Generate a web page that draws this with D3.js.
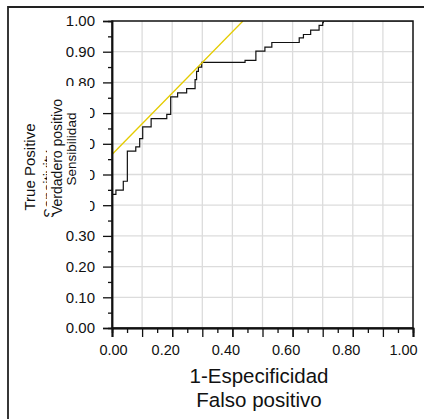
<!DOCTYPE html>
<html>
<head>
<meta charset="utf-8">
<script src="https://cdn.jsdelivr.net/npm/d3@7"></script>
<style>
  body { margin: 0; background: #fff; }
  svg { display: block; font-family: Arial, "Liberation Sans", sans-serif; }
</style>
</head>
<body>
<div id="chart"></div>
<script>
// ROC curve vertices (start of each horizontal run, step-after)
const fpr = [0, 0, 0.013, 0.0375, 0.051, 0.079, 0.092, 0.102, 0.130, 0.182, 0.195, 0.218,
  0.248, 0.276, 0.281, 0.287, 0.298, 0.442, 0.478, 0.508, 0.531, 0.622, 0.636, 0.660,
  0.688, 0.700, 0.702, 1.0];
const tpr = [0, 0.435, 0.449, 0.478, 0.576, 0.590, 0.617, 0.655, 0.682, 0.696, 0.753, 0.766,
  0.780, 0.809, 0.836, 0.850, 0.865, 0.872, 0.902, 0.915, 0.930, 0.945, 0.956, 0.970,
  0.986, 0.995, 1.0, 1.0];
// tangent (Youden) line: tpr = fpr + intercept
const youdenIntercept = 0.565;

const majorTicks = [0, 0.1, 0.2, 0.3, 0.4, 0.5, 0.6, 0.7, 0.8, 0.9, 1.0];
const minorTicks = [0.05, 0.15, 0.25, 0.35, 0.45, 0.55, 0.65, 0.75, 0.85, 0.95];
const xLabelValues = [0, 0.2, 0.4, 0.6, 0.8, 1.0];
const xTickLabels = ["0.00", "0.20", "0.40", "0.60", "0.80", "1.00"];
const yTickLabels = ["0.00", "0.10", "0.20", "0.30", "0.40", "0.50", "0.60", "0.70", "0.80", "0.90", "1.00"];
const xTitle = ["1-Especificidad", "Falso positivo"];
const yTitleBack = ["True Positive", "Sensitivity"];
const yTitleFront = ["Verdadero positivo", "Sensibilidad"];

const width = 425, height = 419;
const mLeft = 112, mRight = 413, mTop = 21, mBottom = 328;

const x = d3.scaleLinear().domain([0, 1]).range([mLeft, mRight]);
const y = d3.scaleLinear().domain([0, 1]).range([mBottom, mTop]);

const svg = d3.select("#chart").append("svg")
  .attr("width", width)
  .attr("height", height);

const defs = svg.append("defs");
defs.append("clipPath").attr("id", "plotClip")
  .append("rect").attr("x", mLeft).attr("y", mTop)
  .attr("width", mRight - mLeft).attr("height", mBottom - mTop);
defs.append("clipPath").attr("id", "labelClip")
  .append("rect").attr("x", 66).attr("y", 0).attr("width", width).attr("height", height);

// outer frame (left and top only)
svg.append("path")
  .attr("d", `M8,${height}V7H424`)
  .attr("fill", "none")
  .attr("stroke", "#222")
  .attr("stroke-width", 1.8);

// grid
const grid = svg.append("g").attr("stroke", "#dcdcdc").attr("stroke-width", 1.3);
grid.selectAll(".gx").data(majorTicks.slice(1, -1)).join("line")
  .attr("x1", d => x(d)).attr("x2", d => x(d))
  .attr("y1", mTop).attr("y2", mBottom);
grid.selectAll(".gy").data(majorTicks.slice(1, -1)).join("line")
  .attr("y1", d => y(d)).attr("y2", d => y(d))
  .attr("x1", mLeft).attr("x2", mRight);

const plot = svg.append("g").attr("clip-path", "url(#plotClip)");

const pts = fpr.map((f, i) => [f, tpr[i]]);
plot.append("path")
  .datum(pts)
  .attr("fill", "none")
  .attr("stroke", "#111")
  .attr("stroke-width", 1.2)
  .attr("d", d3.line().x(d => x(d[0])).y(d => y(d[1])).curve(d3.curveStepAfter));

plot.append("line")
  .attr("x1", x(0)).attr("y1", y(youdenIntercept))
  .attr("x2", x(1 - youdenIntercept)).attr("y2", y(1))
  .attr("stroke", "#e4cb00")
  .attr("stroke-width", 1.3);

// plot frame
svg.append("rect")
  .attr("x", mLeft).attr("y", mTop)
  .attr("width", mRight - mLeft).attr("height", mBottom - mTop)
  .attr("fill", "none")
  .attr("stroke", "#111")
  .attr("stroke-width", 1.5);

// axes
const xAxis = svg.append("g")
  .attr("transform", `translate(0,${mBottom})`)
  .call(d3.axisBottom(x).tickValues(xLabelValues).tickFormat((d, i) => xTickLabels[i]).tickSize(9).tickPadding(8));
svg.append("g")
  .attr("transform", `translate(0,${mBottom})`)
  .call(d3.axisBottom(x).tickValues(majorTicks).tickFormat("").tickSize(9));
svg.append("g")
  .attr("transform", `translate(0,${mBottom})`)
  .call(d3.axisBottom(x).tickValues(minorTicks).tickFormat("").tickSize(5));

// y axis lives in an untranslated wrapper so the label clip is in page coordinates
const yWrap = svg.append("g").attr("clip-path", "url(#labelClip)");
const yAxis = yWrap.append("g")
  .attr("transform", `translate(${mLeft},0)`)
  .call(d3.axisLeft(y).tickValues(majorTicks).tickFormat((d, i) => yTickLabels[i]).tickSize(9).tickPadding(8));
svg.append("g")
  .attr("transform", `translate(${mLeft},0)`)
  .call(d3.axisLeft(y).tickValues(minorTicks).tickFormat("").tickSize(4));

svg.selectAll(".domain").attr("stroke", "#111").attr("stroke-width", 1.5);
svg.selectAll(".tick line").attr("stroke", "#111").attr("stroke-width", 1.3);
xAxis.selectAll("text")
  .attr("font-size", 14.5).attr("fill", "#111")
  .attr("font-family", "Arial, 'Liberation Sans', sans-serif")
  .attr("dx", (d, i) => (i === 0 ? 1 : i === xLabelValues.length - 1 ? -10 : -7));
yAxis.selectAll("text")
  .attr("font-size", 15).attr("fill", "#111")
  .attr("font-family", "Arial, 'Liberation Sans', sans-serif");

// x title
svg.append("g").selectAll("text").data(xTitle).join("text")
  .attr("x", 259)
  .attr("y", (d, i) => 383 + i * 24)
  .attr("text-anchor", "middle")
  .attr("font-size", 20.5)
  .attr("fill", "#111")
  .text(d => d);

// y title (original, partly hidden)
svg.append("text")
  .attr("transform", "translate(35,167) rotate(-90)")
  .attr("text-anchor", "middle")
  .attr("font-size", 15)
  .attr("fill", "#111")
  .text(yTitleBack[0]);
svg.append("text")
  .attr("transform", "translate(54,218) rotate(-90)")
  .attr("text-anchor", "start")
  .attr("font-size", 15)
  .attr("fill", "#111")
  .text(yTitleBack[1]);

// overlay label box
svg.append("rect")
  .attr("x", 47).attr("y", 86)
  .attr("width", 43).attr("height", 127)
  .attr("fill", "#fff");
svg.append("text")
  .attr("transform", "translate(62,157) rotate(-90)")
  .attr("text-anchor", "middle")
  .attr("font-size", 14)
  .attr("fill", "#111")
  .text(yTitleFront[0]);
svg.append("text")
  .attr("transform", "translate(76,149) rotate(-90)")
  .attr("text-anchor", "middle")
  .attr("font-size", 13.5)
  .attr("fill", "#111")
  .text(yTitleFront[1]);
</script>
</body>
</html>
